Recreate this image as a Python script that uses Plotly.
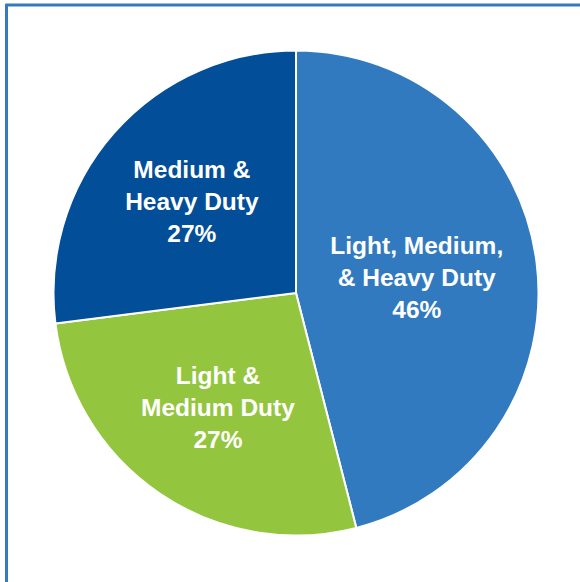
import plotly.graph_objects as go

labels = ["Light, Medium,<br>& Heavy Duty", "Light &<br>Medium Duty", "Medium &<br>Heavy Duty"]
values = [46, 27, 27]
colors = ["#317AC0", "#93C63E", "#024E98"]

W, H = 580, 582
cx, cy, r = 296, 293, 242.5

fig = go.Figure(go.Pie(
    labels=labels,
    values=values,
    sort=False,
    direction="clockwise",
    rotation=0,
    marker=dict(colors=colors, line=dict(color="white", width=2)),
    texttemplate="%{label}<br>%{percent:.0%}",
    textposition="inside",
    insidetextorientation="horizontal",
    textfont=dict(family="Liberation Sans, Arial, sans-serif", size=24.5, color="white", weight="bold"),
    hoverinfo="label+percent",
    showlegend=False,
    domain=dict(x=[(cx - r) / W, (cx + r) / W], y=[1 - (cy + r) / H, 1 - (cy - r) / H]),
))

fig.update_layout(
    width=W, height=H,
    margin=dict(l=0, r=0, t=0, b=0),
    paper_bgcolor="white",
    plot_bgcolor="white",
    uniformtext=dict(minsize=24.5, mode="show"),
    shapes=[
        dict(type="line", xref="paper", yref="paper", x0=6.5 / W, x1=6.5 / W, y0=0, y1=1 - 4 / H,
             line=dict(color="#3479C2", width=3)),
        dict(type="line", xref="paper", yref="paper", x0=5.5 / W, x1=1, y0=1 - 5 / H, y1=1 - 5 / H,
             line=dict(color="#3479C2", width=3)),
    ],
)

fig.write_html("out.html")
